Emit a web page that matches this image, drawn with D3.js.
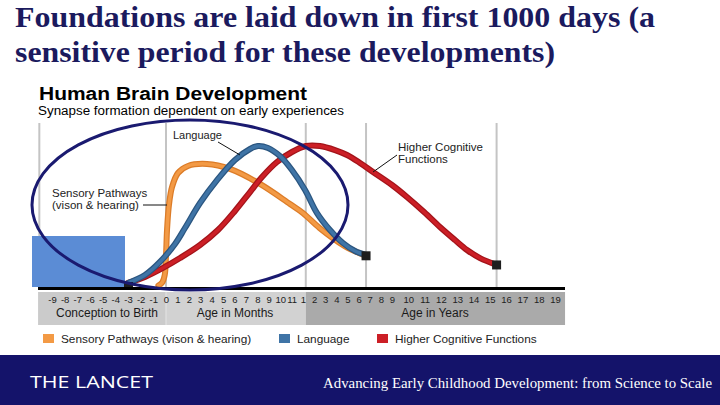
<!DOCTYPE html>
<html>
<head>
<meta charset="utf-8">
<script src="https://cdn.jsdelivr.net/npm/d3@7"></script>
<style>
  body { margin: 0; background: #fff; }
  svg { display: block; }
</style>
</head>
<body>
<svg width="720" height="405"></svg>
<script>
// age is in months (negative = before birth), value = synapse formation (0-100)
const sensoryAge = [-0.6, -0.3, -0.1, 0, 0.09, 0.26, 0.53, 1.05, 1.93, 3.59, 5.6, 8.23, 10.86, 12, 30, 57, 80];
const sensoryVal = [3, 5, 10, 23, 40, 56.7, 68.7, 78, 82.7, 84, 80.7, 70.7, 57.3, 51.3, 41.3, 29.3, 22.7];

const languageAge = [-3, -1.66, -0.48, 0.79, 1.66, 2.98, 4.47, 6.04, 7.36, 8.06, 8.93, 9.98, 11.03, 14.2, 27.1, 41.1, 55.1, 68.1, 80];
const languageVal = [4.7, 10, 18.7, 30.7, 41.3, 58, 73.3, 86.7, 94, 96, 94.7, 89.3, 80, 66.7, 51.3, 40, 31.3, 26, 23.3];

const higherAge = [-3, -1.66, -0.24, 1.23, 2.98, 4.55, 6.04, 7.36, 8.41, 9.72, 11.03, 15.2, 30.3, 46.5, 59.5, 73.5, 87.5, 108, 119, 131.6, 143.3, 154.4, 163.2, 172.8, 185.3];
const higherVal = [4.7, 8.7, 14.7, 21.3, 30, 40, 52.7, 65.3, 75.3, 85.3, 92, 96, 96, 93.3, 90, 84.7, 78.7, 70, 62, 52, 42, 33.3, 26.7, 21.3, 16.7];

const prenatalTicks = [-9, -8, -7, -6, -5, -4, -3, -2, -1, 0];
const monthTicks = [1, 2, 3, 4, 5, 6, 7, 8, 9, 10, 11];
const yearTicks = [1, 2, 3, 4, 5, 6, 7, 8, 9, 10, 11, 12, 13, 14, 15, 16, 17, 18, 19];

const gridAges = [-10, 0, 15, 80, 185];
const endAges = [80, 185];

const periodNames = ["Conception to Birth", "Age in Months", "Age in Years"];
const periodStart = [-10.1, 0, 15];
const periodEnd = [0, 15, 235.4];

const legendNames = ["Sensory Pathways (vison & hearing)", "Language", "Higher Cognitive Functions"];
const colors = ["#f39a45", "#3f74a6", "#cc1f26"];
const edgeColors = ["#dc7c28", "#2b5680", "#a3141a"];

const svg = d3.select("svg");
const navy = "#1b1a5e";
const sans = "'Liberation Sans', Arial, sans-serif";

// piecewise scale: prenatal months, postnatal months, years
const x = d3.scaleLinear()
  .domain([-9, 0, 12, 108, 228])
  .range([52, 166, 303, 392, 555]);
const y = d3.scaleLinear().domain([0, 100]).range([290, 140]);

// Title
const title = svg.append("g")
  .attr("font-family", "'Liberation Serif', 'Times New Roman', serif")
  .attr("font-weight", "bold")
  .attr("font-size", 29)
  .attr("fill", navy);
title.append("text").attr("x", 15).attr("y", 27)
  .attr("textLength", 640).attr("lengthAdjust", "spacingAndGlyphs")
  .text("Foundations are laid down in first 1000 days (a");
title.append("text").attr("x", 15).attr("y", 62)
  .attr("textLength", 540).attr("lengthAdjust", "spacingAndGlyphs")
  .text("sensitive period for these developments)");

// Chart header
svg.append("text").attr("x", 39).attr("y", 100)
  .attr("font-family", sans).attr("font-weight", "bold").attr("font-size", 17.5)
  .attr("textLength", 268).attr("lengthAdjust", "spacingAndGlyphs")
  .text("Human Brain Development");
svg.append("text").attr("x", 38).attr("y", 115)
  .attr("font-family", sans).attr("font-size", 12)
  .attr("textLength", 306).attr("lengthAdjust", "spacingAndGlyphs")
  .text("Synapse formation dependent on early experiences");

// grid lines
svg.selectAll("line.grid")
  .data(gridAges)
  .enter()
  .append("line")
  .attr("class", "grid")
  .attr("x1", d => x(d)).attr("x2", d => x(d))
  .attr("y1", 123).attr("y2", 289)
  .attr("stroke", "#c4c4c4")
  .attr("stroke-width", 2);

// period band
const bandFill = ["#cbcbcb", "#d2d2d2", "#aaaaaa"];
const labelCx = [107, 235, 435];
periodNames.forEach((name, i) => {
  svg.append("rect")
    .attr("x", x(periodStart[i]))
    .attr("y", 292)
    .attr("width", x(periodEnd[i]) - x(periodStart[i]))
    .attr("height", 33)
    .attr("fill", bandFill[i]);
  svg.append("text")
    .attr("x", labelCx[i]).attr("y", 317)
    .attr("text-anchor", "middle")
    .attr("font-family", sans).attr("font-size", 12)
    .attr("fill", "#1a1a1a")
    .text(name);
});
svg.append("line")
  .attr("x1", x(periodStart[1])).attr("x2", x(periodStart[1]))
  .attr("y1", 292).attr("y2", 325)
  .attr("stroke", "#e4e4e4").attr("stroke-width", 1);

// tick labels through an axis
const tickValues = prenatalTicks.concat(monthTicks, yearTicks.map(v => v * 12));
const axis = d3.axisBottom(x)
  .tickValues(tickValues)
  .tickSize(0)
  .tickFormat(d => d >= 12 ? String(d / 12) : String(d));
const gAxis = svg.append("g").attr("transform", "translate(0,295)").call(axis);
gAxis.select(".domain").remove();
gAxis.selectAll("text")
  .attr("font-family", sans)
  .attr("font-size", 9.5)
  .attr("fill", "#222")
  .attr("dy", "0.55em");

// black baseline
svg.append("line")
  .attr("x1", 38).attr("x2", 565)
  .attr("y1", 288.5).attr("y2", 288.5)
  .attr("stroke", "#000").attr("stroke-width", 3);

// blue box overlay
svg.append("rect")
  .attr("x", 32).attr("y", 236)
  .attr("width", 93).attr("height", 51)
  .attr("fill", "#5b8cd5");

// curves
const series = [
  sensoryAge.map((a, i) => [a, sensoryVal[i]]),
  higherAge.map((a, i) => [a, higherVal[i]]),
  languageAge.map((a, i) => [a, languageVal[i]])
];
const seriesColor = [0, 2, 1];
const line = d3.line()
  .x(d => x(d[0]))
  .y(d => y(d[1]))
  .curve(d3.curveCatmullRom.alpha(0.5));

series.forEach((s, i) => {
  const c = seriesColor[i];
  svg.append("path").datum(s).attr("d", line)
    .attr("fill", "none").attr("stroke", edgeColors[c])
    .attr("stroke-width", 6).attr("stroke-linecap", "round");
  svg.append("path").datum(s).attr("d", line)
    .attr("fill", "none").attr("stroke", colors[c])
    .attr("stroke-width", 3.5).attr("stroke-linecap", "round");
});

// end markers
svg.selectAll("rect.end")
  .data([[endAges[0], languageVal[languageVal.length - 1] - 0.5], [endAges[1], higherVal[higherVal.length - 1]]])
  .enter()
  .append("rect")
  .attr("class", "end")
  .attr("x", d => x(d[0]) - 4.5)
  .attr("y", d => y(d[1]) - 4.5)
  .attr("width", 9).attr("height", 9)
  .attr("fill", "#1e1e1e");
svg.append("rect")
  .attr("x", x(-3) - 4).attr("y", 282)
  .attr("width", 9).attr("height", 5)
  .attr("fill", "#1e1e1e");

// annotations
const ann = svg.append("g").attr("font-family", sans).attr("font-size", 11.5).attr("fill", "#222");
ann.append("text").attr("x", 173).attr("y", 139).attr("font-size", 11).text("Language");
ann.append("text").attr("x", 398).attr("y", 151).text("Higher Cognitive");
ann.append("text").attr("x", 398).attr("y", 163).text("Functions");
ann.append("text").attr("x", 52).attr("y", 197).text("Sensory Pathways");
ann.append("text").attr("x", 52).attr("y", 209).text("(vison & hearing)");
const pointers = [[218, 142, 240, 155], [397, 155, 373, 172], [143, 205, 167, 205]];
svg.selectAll("line.ptr")
  .data(pointers)
  .enter()
  .append("line")
  .attr("class", "ptr")
  .attr("x1", d => d[0]).attr("y1", d => d[1])
  .attr("x2", d => d[2]).attr("y2", d => d[3])
  .attr("stroke", "#111").attr("stroke-width", 1);

// navy ellipse
svg.append("ellipse")
  .attr("cx", 190).attr("cy", 205)
  .attr("rx", 158).attr("ry", 85)
  .attr("fill", "none")
  .attr("stroke", "#1a1a70")
  .attr("stroke-width", 3);

// legend
const legendX = [43, 279, 377];
legendNames.forEach((name, i) => {
  svg.append("rect")
    .attr("x", legendX[i]).attr("y", 334)
    .attr("width", 11).attr("height", 9)
    .attr("fill", colors[i]);
  svg.append("text")
    .attr("x", legendX[i] + 18).attr("y", 343)
    .attr("font-family", sans).attr("font-size", 11.8)
    .attr("fill", "#222")
    .text(name);
});

// bottom banner
svg.append("rect")
  .attr("x", 0).attr("y", 355)
  .attr("width", 720).attr("height", 50)
  .attr("fill", "#14136a");
svg.append("text")
  .attr("x", 30).attr("y", 388)
  .attr("font-family", "'Open Sans', sans-serif").attr("font-size", 17)
  .attr("fill", "#fff")
  .attr("textLength", 123).attr("lengthAdjust", "spacingAndGlyphs")
  .text("THE LANCET");
svg.append("text")
  .attr("x", 323).attr("y", 388)
  .attr("font-family", "'Liberation Serif', 'Times New Roman', serif").attr("font-size", 14)
  .attr("fill", "#fff")
  .attr("textLength", 389).attr("lengthAdjust", "spacingAndGlyphs")
  .text("Advancing Early Childhood Development: from Science to Scale");
</script>
</body>
</html>
